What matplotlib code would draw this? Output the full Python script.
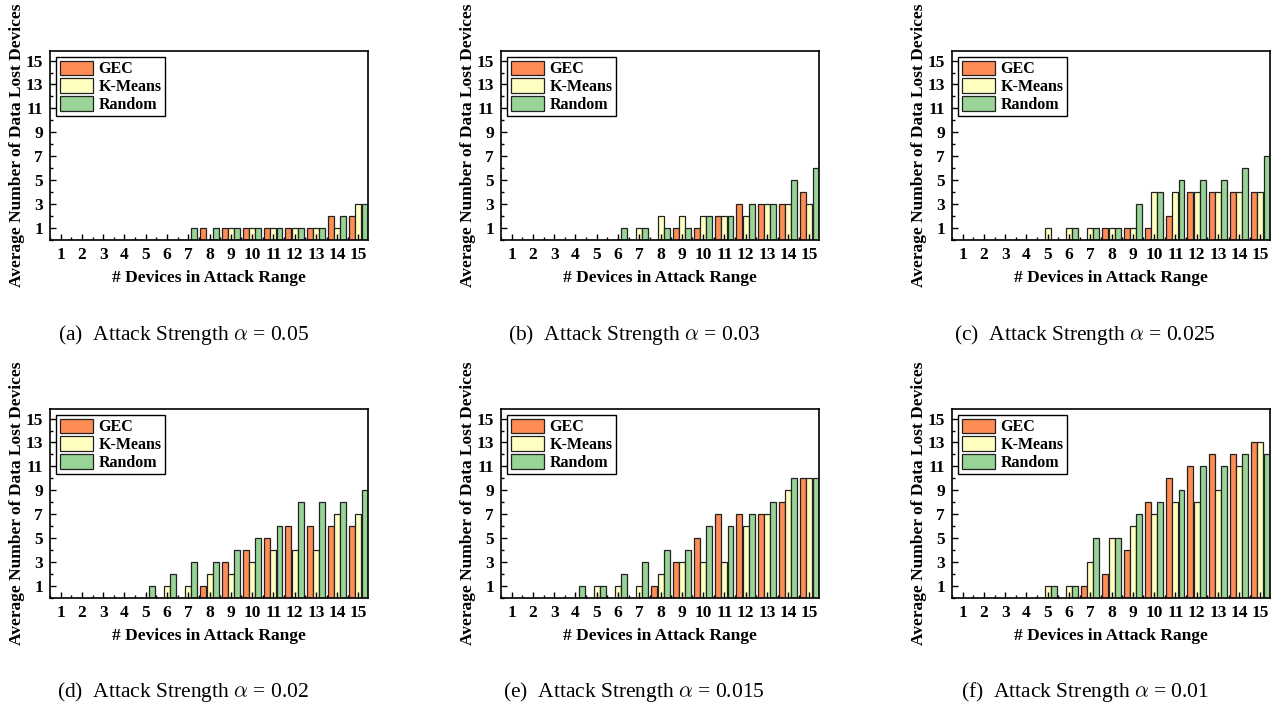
import numpy as np
import matplotlib
matplotlib.use("Agg")
import matplotlib.pyplot as plt
from matplotlib.ticker import MultipleLocator

plt.rcParams['font.family'] = ['Liberation Serif', 'DejaVu Serif']
plt.rcParams['mathtext.fontset'] = 'cm'

devices = np.arange(1, 16)
methods = ['GEC', 'K-Means', 'Random']
colors = ['#FF8C55', '#FFFFC2', '#98D496']
captions = ['(a)  Attack Strength $\\alpha$ = 0.05',
            '(b)  Attack Strength $\\alpha$ = 0.03',
            '(c)  Attack Strength $\\alpha$ = 0.025',
            '(d)  Attack Strength $\\alpha$ = 0.02',
            '(e)  Attack Strength $\\alpha$ = 0.015',
            '(f)  Attack Strength $\\alpha$ = 0.01']

# alpha = 0.05
gec_a = [0, 0, 0, 0, 0, 0, 0, 1, 1, 1, 1, 1, 1, 2, 2]
km_a = [0, 0, 0, 0, 0, 0, 0, 0, 1, 1, 1, 1, 1, 1, 3]
rnd_a = [0, 0, 0, 0, 0, 0, 1, 1, 1, 1, 1, 1, 1, 2, 3]
# alpha = 0.03
gec_b = [0, 0, 0, 0, 0, 0, 0, 0, 1, 1, 2, 3, 3, 3, 4]
km_b = [0, 0, 0, 0, 0, 0, 1, 2, 2, 2, 2, 2, 3, 3, 3]
rnd_b = [0, 0, 0, 0, 0, 1, 1, 1, 1, 2, 2, 3, 3, 5, 6]
# alpha = 0.025
gec_c = [0, 0, 0, 0, 0, 0, 0, 1, 1, 1, 2, 4, 4, 4, 4]
km_c = [0, 0, 0, 0, 1, 1, 1, 1, 1, 4, 4, 4, 4, 4, 4]
rnd_c = [0, 0, 0, 0, 0, 1, 1, 1, 3, 4, 5, 5, 5, 6, 7]
# alpha = 0.02
gec_d = [0, 0, 0, 0, 0, 0, 0, 1, 3, 4, 5, 6, 6, 6, 6]
km_d = [0, 0, 0, 0, 0, 1, 1, 2, 2, 3, 4, 4, 4, 7, 7]
rnd_d = [0, 0, 0, 0, 1, 2, 3, 3, 4, 5, 6, 8, 8, 8, 9]
# alpha = 0.015
gec_e = [0, 0, 0, 0, 0, 0, 0, 1, 3, 5, 7, 7, 7, 8, 10]
km_e = [0, 0, 0, 0, 1, 1, 1, 2, 3, 3, 3, 6, 7, 9, 10]
rnd_e = [0, 0, 0, 1, 1, 2, 3, 4, 4, 6, 6, 7, 8, 10, 10]
# alpha = 0.01
gec_f = [0, 0, 0, 0, 0, 0, 1, 2, 4, 8, 10, 11, 12, 12, 13]
km_f = [0, 0, 0, 0, 1, 1, 3, 5, 6, 7, 8, 8, 9, 11, 13]
rnd_f = [0, 0, 0, 0, 1, 1, 5, 5, 7, 8, 9, 11, 11, 12, 12]

panels = [(gec_a, km_a, rnd_a), (gec_b, km_b, rnd_b), (gec_c, km_c, rnd_c),
          (gec_d, km_d, rnd_d), (gec_e, km_e, rnd_e), (gec_f, km_f, rnd_f)]

W, H = 1273, 707
fig = plt.figure(figsize=(W / 100, H / 100), dpi=100)

lefts = [50, 501, 952]
tops = [51, 409]
aw, ah = 318, 189
bw = 0.28
offs = [-0.29, 0, 0.29]

for i, data in enumerate(panels):
    r, c = divmod(i, 3)
    l, t = lefts[c], tops[r]
    ax = fig.add_axes([l / W, 1 - (t + ah) / H, aw / W, ah / H])
    for j, vals in enumerate(data):
        ax.bar(devices + offs[j], vals, bw, color=colors[j], edgecolor='#222222',
               linewidth=0.9, label=methods[j])
    ax.set_xlim(0.5, 15.45)
    ax.set_ylim(0, 15.8)
    ax.set_xticks(devices)
    ax.set_yticks([1, 3, 5, 7, 9, 11, 13, 15])
    ax.xaxis.set_minor_locator(MultipleLocator(0.5))
    ax.yaxis.set_minor_locator(MultipleLocator(1))
    ax.tick_params(which='both', direction='in', width=1)
    ax.tick_params(which='major', length=4, labelsize=12.5, pad=5)
    ax.tick_params(which='minor', length=2)
    for lab in ax.get_xticklabels() + ax.get_yticklabels():
        lab.set_fontweight('bold')
    for s in ax.spines.values():
        s.set_linewidth(1.2)
    ax.set_xlabel('# Devices in Attack Range', fontsize=12.5, fontweight='bold', labelpad=5)
    ax.set_ylabel('Average Number of Data Lost Devices', fontsize=12.5,
                  fontweight='bold')
    ax.yaxis.set_label_coords(-0.08, 0.5)
    leg = ax.legend(loc='upper left', prop={'weight': 'bold', 'size': 11.5},
                    handlelength=2.1, handleheight=1.05, labelspacing=0.05,
                    borderpad=0.2, handletextpad=0.35, borderaxespad=0.4,
                    fancybox=False, framealpha=1)
    leg.get_frame().set_edgecolor('black')
    leg.get_frame().set_linewidth(1)
    cap_y = 335 if r == 0 else 692
    fig.text((l + 133) / W, 1 - cap_y / H, captions[i], fontsize=15.5,
             ha='center', va='center')

fig.savefig('out.png', dpi=100)
